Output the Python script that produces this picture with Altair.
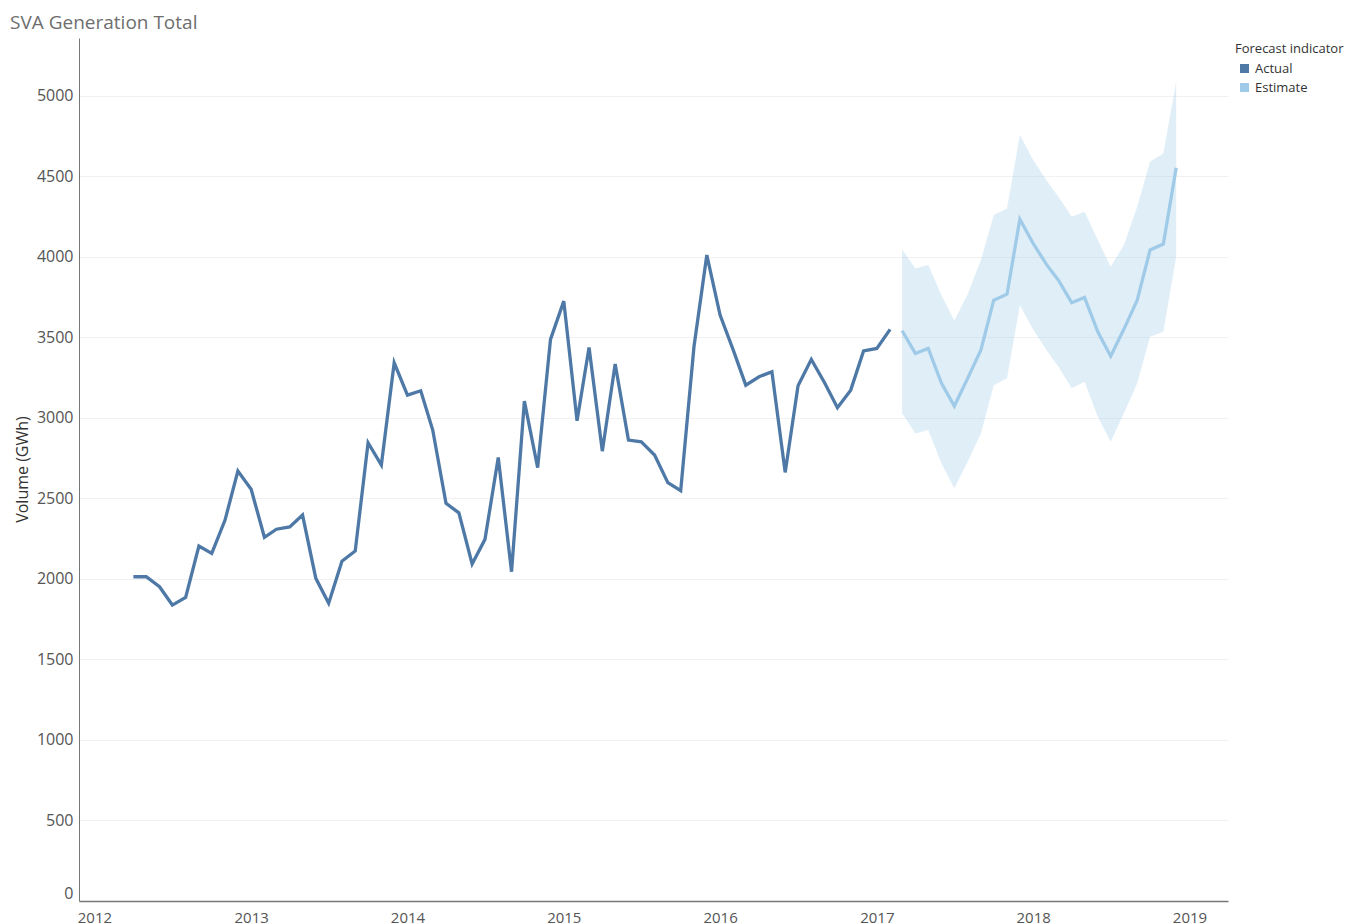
import altair as alt
import pandas as pd

# ---- data ----
actual_start = "2012-04-01"
actual_values = [
    2014, 2014, 1952, 1838, 1886, 2205, 2159, 2366, 2670,              # 2012 Apr-Dec
    2557, 2259, 2309, 2323, 2397, 2004, 1849, 2110, 2174, 2846, 2708, 3343,  # 2013
    3142, 3169, 2925, 2470, 2411, 2093, 2246, 2755, 2045, 3105, 2692, 3488,  # 2014
    3726, 2983, 3438, 2794, 3335, 2863, 2852, 2770, 2598, 2548, 3442, 4012,  # 2015
    3639, 3420, 3204, 3256, 3287, 2662, 3200, 3364, 3219, 3064, 3173, 3416,  # 2016
    3432, 3550,                                                          # 2017 Jan-Feb
]

estimate_start = "2017-03-01"
estimate_values = [
    3542, 3401, 3432, 3215, 3074, 3246, 3422, 3732, 3769, 4235,
    4084, 3954, 3856, 3716, 3749, 3535, 3384, 3552, 3732, 4043, 4080, 4554,
]
estimate_upper = [
    4047, 3929, 3950, 3763, 3604, 3769, 3981, 4260, 4301, 4757,
    4602, 4477, 4374, 4250, 4281, 4105, 3939, 4074, 4312, 4591, 4643, 5086,
]
estimate_lower = [
    3029, 2904, 2925, 2718, 2563, 2728, 2904, 3204, 3246, 3701,
    3550, 3422, 3318, 3184, 3225, 3008, 2852, 3029, 3215, 3504, 3535, 4001,
]

series_names = ["Actual", "Estimate"]
series_colors = ["#4e79a7", "#a0cbe8"]
year_ticks = [2012, 2013, 2014, 2015, 2016, 2017, 2018, 2019]

# ---- tables ----
actual_months = pd.date_range(actual_start, periods=len(actual_values), freq="MS")
estimate_months = pd.date_range(estimate_start, periods=len(estimate_values), freq="MS")

lines_df = pd.concat([
    pd.DataFrame({"date": actual_months.strftime("%Y-%m-%d"),
                  "value": actual_values, "Forecast indicator": "Actual"}),
    pd.DataFrame({"date": estimate_months.strftime("%Y-%m-%d"),
                  "value": estimate_values, "Forecast indicator": "Estimate"}),
], ignore_index=True)

band_df = pd.DataFrame({"date": estimate_months.strftime("%Y-%m-%d"),
                        "lower": estimate_lower, "upper": estimate_upper})

FONT = "Open Sans"

x_scale = alt.Scale(type="utc", domain=["2011-11-26", "2019-04-01"])
y_scale = alt.Scale(domain=[0, 5360], nice=False)

x_axis = alt.Axis(
    title=None,
    values=[alt.DateTime(year=y, month=1, date=1, utc=True) for y in year_ticks],
    format="%Y", grid=False, ticks=False, labelPadding=9,
    labelFontSize=15, labelColor="#555555", labelFont=FONT,
    domainColor="#777777", domainWidth=1.5,
)
y_axis = alt.Axis(
    title="Volume (GWh)", values=list(range(0, 5001, 500)), format="d",
    grid=True, gridColor="#f1f1f1", gridWidth=1, ticks=False,
    labelPadding=6, labelFontSize=16, labelColor="#555555", labelFont=FONT,
    labelFlush=True,
    domainColor="#777777", domainWidth=1,
    titleFont=FONT, titleFontSize=16, titleColor="#333333", titleFontWeight="normal",
    titleX=-57, titleY=431, titleAngle=270, titleAlign="center", titleBaseline="middle",
)

band = alt.Chart(band_df).mark_area(color="#a0cbe8", opacity=0.32).encode(
    x=alt.X("date:T", scale=x_scale, axis=x_axis),
    y=alt.Y("lower:Q", scale=y_scale, axis=y_axis),
    y2="upper:Q",
)

lines = alt.Chart(lines_df).mark_line(strokeWidth=3.3).encode(
    x=alt.X("date:T", scale=x_scale, axis=x_axis),
    y=alt.Y("value:Q", scale=y_scale, axis=y_axis),
    color=alt.Color(
        "Forecast indicator:N",
        scale=alt.Scale(domain=series_names, range=series_colors),
        legend=alt.Legend(
            orient="none", legendX=1156, legendY=5,
            symbolType="square", symbolSize=16, symbolStrokeWidth=5,
            titleFont=FONT, titleFontSize=13, titleColor="#333333", titleFontWeight="normal",
            labelFont=FONT, labelFontSize=13, labelColor="#333333",
            rowPadding=-6, titlePadding=6, symbolOffset=3, labelOffset=4,
        ),
    ),
)

chart = alt.layer(band, lines).properties(
    width=1149,
    height=863,
    title=alt.TitleParams(
        "SVA Generation Total", anchor="start", frame="bounds",
        offset=5, dx=-4,
        font=FONT, fontSize=19, fontWeight="normal", color="#6e6e6e",
    ),
    autosize=alt.AutoSizeParams(type="none"),
    padding={"left": 71, "top": 30, "right": 127, "bottom": 30},
).configure_view(stroke=None)

chart.save("out.html", embed_options={"renderer": "svg", "actions": False})
